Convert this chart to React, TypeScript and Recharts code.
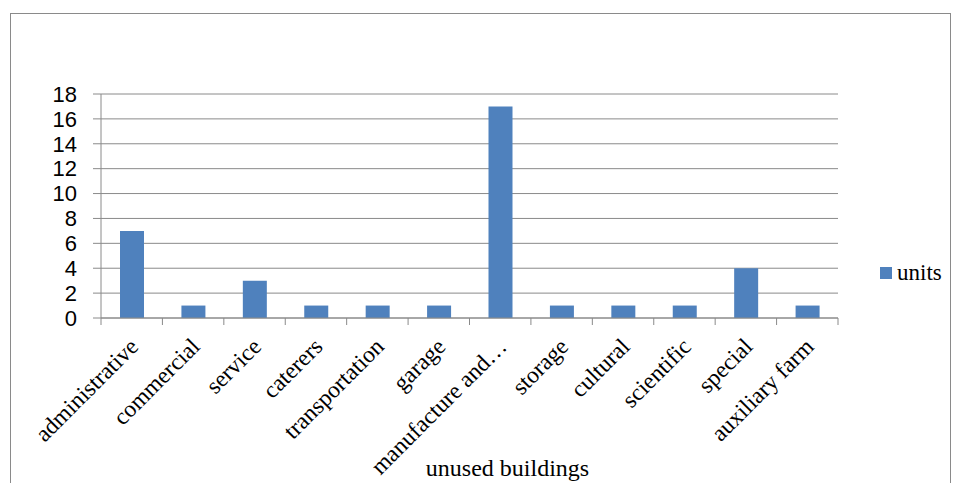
import { BarChart, Bar, XAxis, YAxis, CartesianGrid, Legend, Label } from "recharts";

const categories = [
  "administrative",
  "commercial",
  "service",
  "caterers",
  "transportation",
  "garage",
  "manufacture and…",
  "storage",
  "cultural",
  "scientific",
  "special",
  "auxiliary farm",
];
const units = [7, 1, 3, 1, 1, 1, 17, 1, 1, 1, 4, 1];
const yTicks = [0, 2, 4, 6, 8, 10, 12, 14, 16, 18];

const data = categories.map((name, i) => ({ name, units: units[i] }));

const W = 957;
const H = 483;
const MARGIN = { top: 94, right: 119, left: 41, bottom: 0 };
const Y_WIDTH = 60;
const PLOT_W = W - MARGIN.left - MARGIN.right - Y_WIDTH;
const BAR = "#4f81bd";
const GRID = "#8a8a8a";
const SERIF = "'Liberation Serif', 'Times New Roman', serif";
const SANS = "'Liberation Sans', Arial, sans-serif";

// category ticks sit between the bars, labels run at -45deg
function XTick(props: { x?: number; y?: number; index?: number; payload?: { value: string } }) {
  const { x = 0, y = 0, index = 0, payload } = props;
  const bw = PLOT_W / categories.length;
  const ax = x + 8;
  const ay = y + 30;
  return (
    <g>
      <line x1={x - bw / 2} y1={y} x2={x - bw / 2} y2={y + 7} stroke={GRID} />
      {index === categories.length - 1 && (
        <line x1={x + bw / 2} y1={y} x2={x + bw / 2} y2={y + 7} stroke={GRID} />
      )}
      <text
        x={ax}
        y={ay}
        transform={`rotate(-45 ${ax} ${ay})`}
        textAnchor="end"
        fill="#000"
        fontFamily={SERIF}
        fontSize={23.5}
      >
        {payload?.value}
      </text>
    </g>
  );
}

function LegendBox() {
  return (
    <div style={{ display: "flex", alignItems: "center", color: "#000" }}>
      <span style={{ width: 12, height: 12, background: BAR, marginRight: 5, display: "inline-block" }} />
      <span style={{ fontFamily: SERIF, fontSize: 23 }}>units</span>
    </div>
  );
}

export default function App() {
  return (
    <div style={{ position: "absolute", left: 0, top: 0, width: W, height: H, background: "#fff", overflow: "hidden" }}>
      <div
        style={{
          position: "absolute",
          left: 10,
          top: 13,
          width: 939,
          height: 500,
          border: "1px solid #8a8a8a",
        }}
      />
      <BarChart width={W} height={H} data={data} margin={MARGIN}>
        <CartesianGrid vertical={false} stroke={GRID} />
        <XAxis
          dataKey="name"
          interval={0}
          height={165}
          tickLine={false}
          tickSize={0}
          tickMargin={0}
          axisLine={{ stroke: GRID }}
          tick={<XTick />}
        >
          <Label
            value="unused buildings"
            position="insideBottom"
            offset={7}
            dx={38}
            style={{ fontFamily: SERIF, fontSize: 24, fill: "#000" }}
          />
        </XAxis>
        <YAxis
          width={Y_WIDTH}
          domain={[0, 18]}
          ticks={yTicks}
          interval={0}
          tickSize={8}
          tickMargin={16}
          axisLine={{ stroke: GRID }}
          tickLine={{ stroke: GRID }}
          tick={{ fill: "#000", fontFamily: SANS, fontSize: 22 }}
        />
        <Legend
          layout="horizontal"
          verticalAlign="middle"
          align="center"
          content={<LegendBox />}
          wrapperStyle={{ left: 880, top: 260, width: 75, fontFamily: SERIF }}
        />
        <Bar dataKey="units" fill={BAR} barSize={24} isAnimationActive={false} />
      </BarChart>
    </div>
  );
}
